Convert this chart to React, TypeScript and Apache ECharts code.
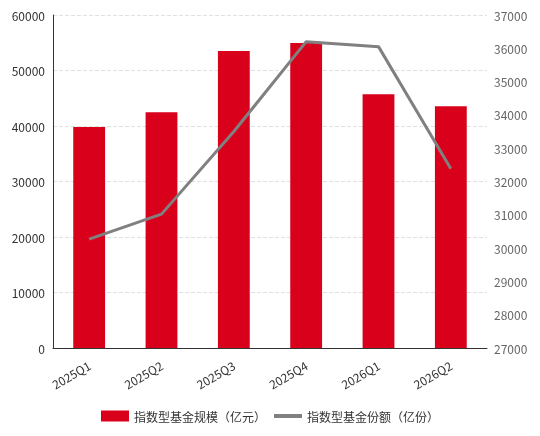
import React, { useEffect, useRef } from "react";
import * as echarts from "echarts";

const categories = ["2025Q1", "2025Q2", "2025Q3", "2025Q4", "2026Q1", "2026Q2"];
const scaleValues = [39800, 42500, 53500, 54950, 45700, 43550];
const shareValues = [30270, 31020, 33500, 36200, 36050, 32380];
const seriesNames = ["指数型基金规模（亿元）", "指数型基金份额（亿份）"];

export default function App() {
  const ref = useRef<HTMLDivElement>(null);
  useEffect(() => {
    const chart = echarts.init(ref.current!, null, { renderer: "svg" });
    const font = "'Microsoft YaHei', 'Noto Sans CJK SC', sans-serif";
    chart.setOption({
      animation: false,
      textStyle: { fontFamily: font },
      grid: { left: 53, right: 53, top: 15, bottom: 88, containLabel: false },
      legend: {
        top: 405,
        left: "center",
        itemWidth: 28,
        itemHeight: 11,
        itemGap: 8,
        textStyle: { color: "#333", fontSize: 12, fontFamily: font },
        data: [
          { name: seriesNames[0], icon: "rect" },
          { name: seriesNames[1], icon: "path://M0,0 L28,0 L28,4 L0,4 Z" },
        ],
      },
      xAxis: {
        type: "category",
        data: categories,
        axisLine: { lineStyle: { color: "#333" } },
        axisTick: { alignWithLabel: false, lineStyle: { color: "#333" } },
        axisLabel: { rotate: 30, color: "#333", fontSize: 12, margin: 16, fontFamily: font },
      },
      yAxis: [
        {
          type: "value",
          min: 0,
          max: 60000,
          interval: 10000,
          axisLine: { show: true, lineStyle: { color: "#333" } },
          axisTick: { show: false },
          axisLabel: { color: "#333", fontSize: 12, margin: 8, fontFamily: font, formatter: (v: number) => String(v) },
          splitLine: { lineStyle: { type: "dashed", color: "#e0e0e0" } },
        },
        {
          type: "value",
          min: 27000,
          max: 37000,
          interval: 1000,
          axisLine: { show: false },
          axisTick: { show: false },
          axisLabel: { color: "#666", fontSize: 12, margin: 7, fontFamily: font, formatter: (v: number) => String(v) },
          splitLine: { show: false },
        },
      ],
      series: [
        {
          name: seriesNames[0],
          type: "bar",
          data: scaleValues,
          barWidth: "44%",
          itemStyle: { color: "#d9001b" },
        },
        {
          name: seriesNames[1],
          type: "line",
          yAxisIndex: 1,
          data: shareValues,
          symbol: "none",
          lineStyle: { color: "#808080", width: 3 },
          itemStyle: { color: "#808080" },
        },
      ],
    });
    return () => chart.dispose();
  }, []);
  return <div ref={ref} style={{ position: "fixed", left: 0, top: 0, width: 540, height: 436 }} />;
}
